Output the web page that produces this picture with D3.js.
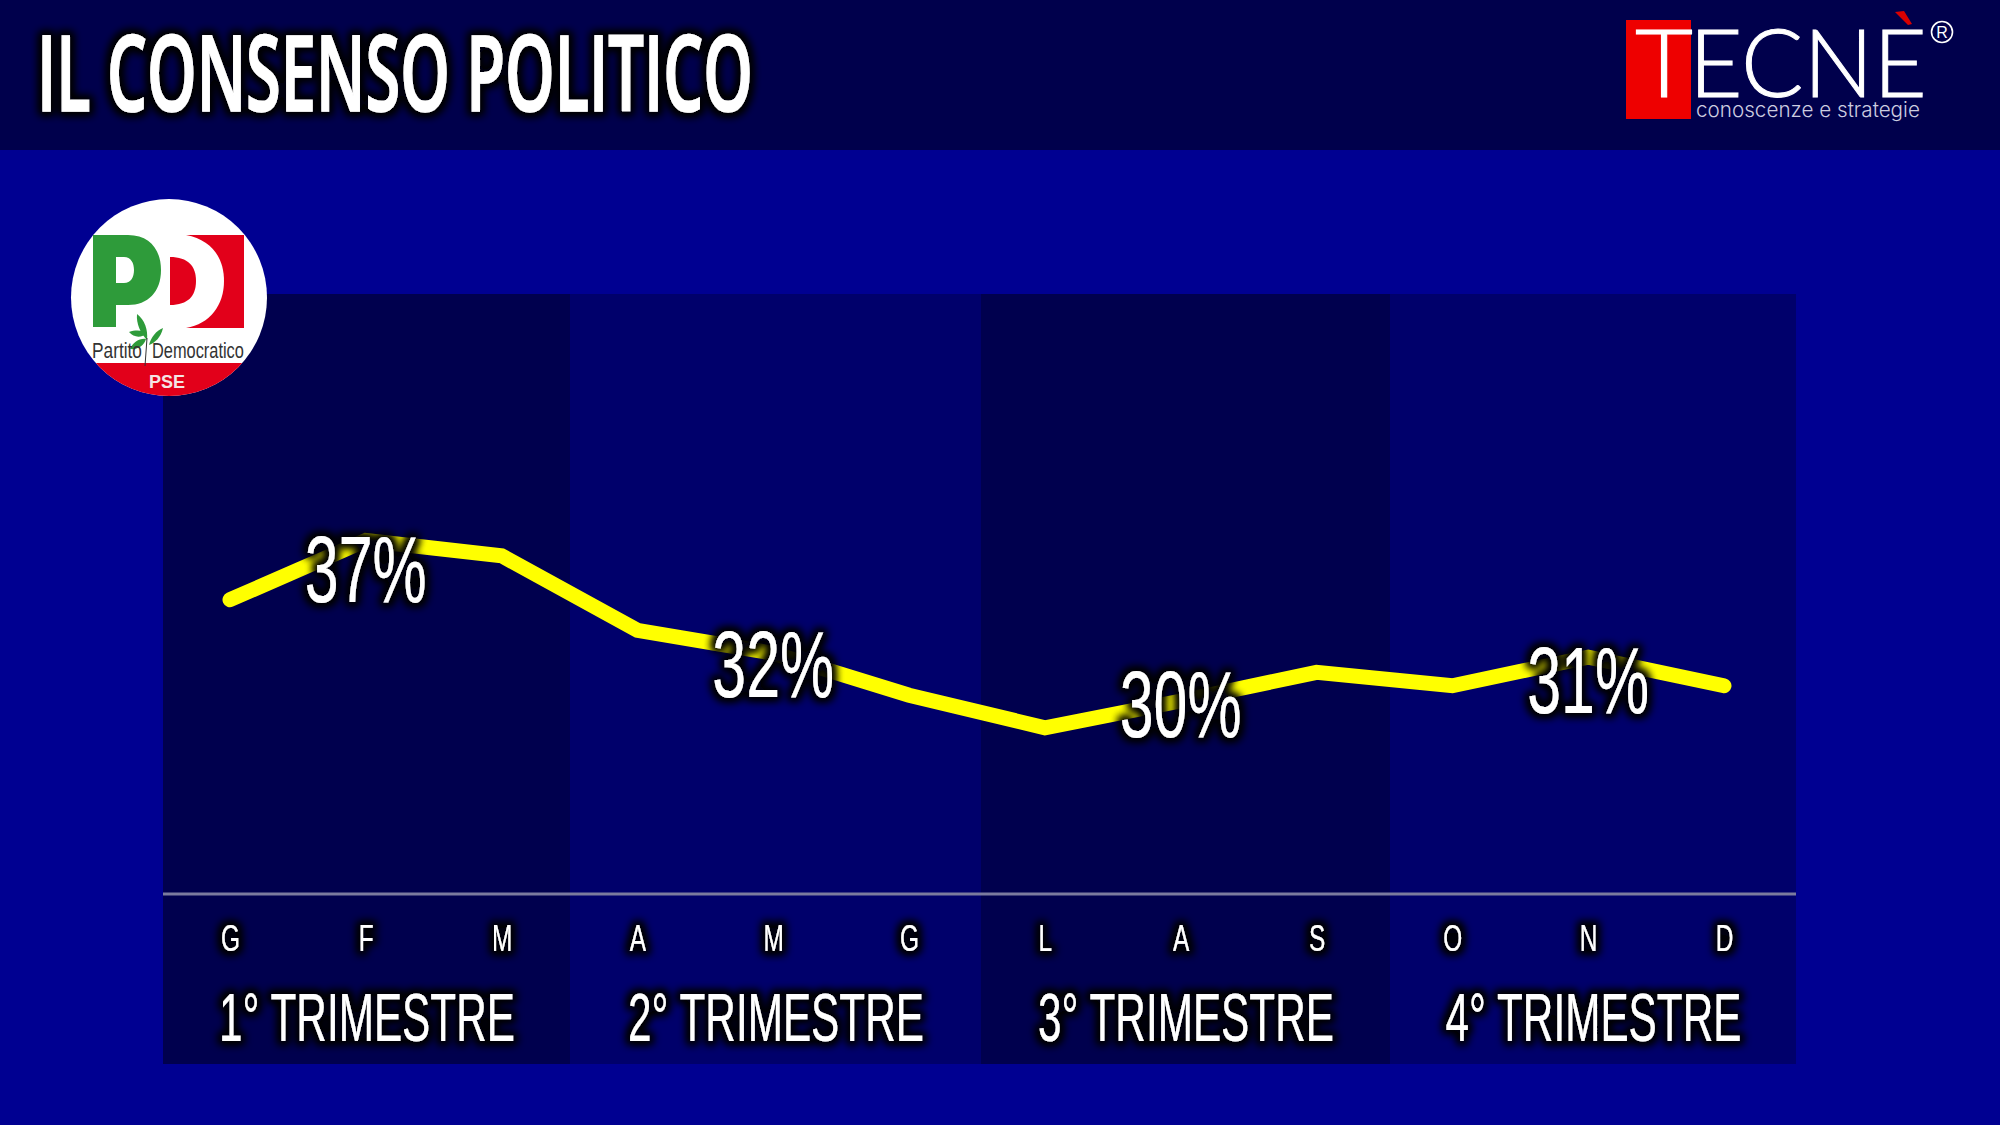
<!DOCTYPE html>
<html>
<head>
<meta charset="utf-8">
<script src="https://cdn.jsdelivr.net/npm/d3@7"></script>
<style>
	html, body { margin: 0; padding: 0; background: #000091; overflow: hidden; }
	svg { display: block; }
	text { fill: #fff; }
</style>
</head>
<body>
<svg id="chart" width="2000" height="1125"></svg>
<script>
var TITLE = "IL CONSENSO POLITICO";
var MONTHS = ["G", "F", "M", "A", "M", "G", "L", "A", "S", "O", "N", "D"];
var CONSENSUS = [35.2, 38.3, 37.5, 33.6, 32.4, 30.2, 28.5, 29.9, 31.4, 30.7, 32.2, 30.7];
var QUARTERS = ["1° TRIMESTRE", "2° TRIMESTRE", "3° TRIMESTRE", "4° TRIMESTRE"];
var QUARTER_VALUES = [37, 32, 30, 31];

var TOP = 294, BASE = 894, BOTTOM = 1064;
var EDGES = [163, 570, 981, 1390, 1796];
var NARROW = "'Liberation Sans Narrow', 'Liberation Sans', sans-serif";

var svg = d3.select("#chart");
var defs = svg.append("defs");

// dark halo round the white text
var glow = defs.append("filter").attr("id", "glow").attr("filterUnits", "userSpaceOnUse")
	.attr("x", 0).attr("y", 0).attr("width", 2000).attr("height", 1125);
glow.append("feMorphology").attr("in", "SourceAlpha").attr("operator", "dilate").attr("radius", 3).attr("result", "fat");
glow.append("feGaussianBlur").attr("in", "fat").attr("stdDeviation", 4.5).attr("result", "blur");
glow.append("feFlood").attr("flood-color", "#000008").attr("result", "dark");
glow.append("feComposite").attr("in", "dark").attr("in2", "blur").attr("operator", "in").attr("result", "halo");
var merge = glow.append("feMerge");
merge.append("feMergeNode").attr("in", "halo");
merge.append("feMergeNode").attr("in", "halo");
merge.append("feMergeNode").attr("in", "SourceGraphic");

defs.append("clipPath").attr("id", "pd-clip").append("ellipse").attr("cx", 169).attr("cy", 297.5).attr("rx", 98).attr("ry", 98.5);

var x = d3.scalePoint().domain(d3.range(MONTHS.length)).range([230, 1724]);
var y = d3.scaleLinear().domain([19.8, 51.2]).range([BASE, TOP]);
var quarterX = d3.scaleOrdinal().domain(QUARTERS).range(QUARTERS.map((d, i) => (EDGES[i] + EDGES[i + 1]) / 2));

// squeeze a text horizontally to a given width, about its own x
function squeeze(sel, width) {
	sel.each(function() {
		var sx = width / this.getComputedTextLength();
		var x0 = +this.getAttribute("x") || 0;
		d3.select(this).attr("transform", "translate(" + x0 + ",0) scale(" + sx + ",1) translate(" + (-x0) + ",0)");
	});
}

// background
svg.append("rect").attr("width", 2000).attr("height", 1125).attr("fill", "#000091");
svg.append("rect").attr("width", 2000).attr("height", 150).attr("fill", "#00004c");

// quarter panels
svg.selectAll("rect.panel").data(QUARTERS).enter().append("rect")
	.attr("class", "panel")
	.attr("x", (d, i) => EDGES[i])
	.attr("y", TOP)
	.attr("width", (d, i) => EDGES[i + 1] - EDGES[i])
	.attr("height", BOTTOM - TOP)
	.attr("fill", (d, i) => i % 2 ? "#00006b" : "#00004e");

svg.append("line")
	.attr("x1", EDGES[0]).attr("x2", EDGES[4]).attr("y1", BASE).attr("y2", BASE)
	.attr("stroke", "#7b7b9e").attr("stroke-width", 3);

// quarter axis
var quarterAxis = svg.append("g").attr("transform", "translate(0," + BASE + ")").attr("filter", "url(#glow)")
	.call(d3.axisBottom(quarterX).tickSize(0).tickSizeOuter(0));
quarterAxis.select(".domain").remove();
quarterAxis.selectAll("text")
	.attr("y", 147).attr("dy", 0)
	.attr("font-family", NARROW).attr("font-size", 69)
	.call(squeeze, 296);

// month axis
var monthAxis = svg.append("g").attr("transform", "translate(0," + BASE + ")").attr("filter", "url(#glow)")
	.call(d3.axisBottom(x).tickSize(0).tickFormat(i => MONTHS[i]));
monthAxis.select(".domain").remove();
monthAxis.selectAll("text")
	.attr("y", 57).attr("dy", 0)
	.attr("font-family", NARROW).attr("font-size", 36)
	.attr("transform", "scale(0.68,1)");

// monthly line
var line = d3.line().x((d, i) => x(i)).y(d => y(d));
svg.append("path").datum(CONSENSUS)
	.attr("d", line)
	.attr("fill", "none")
	.attr("stroke", "#ffff00")
	.attr("stroke-width", 15)
	.attr("stroke-linecap", "round")
	.attr("stroke-linejoin", "miter");

// quarter values sit on the middle month, at the height of the quarter mean
svg.append("g").attr("filter", "url(#glow)")
	.selectAll("text").data(QUARTER_VALUES).enter().append("text")
	.attr("x", (d, i) => x(i * 3 + 1))
	.attr("y", (d, i) => y(d3.mean(CONSENSUS.slice(i * 3, i * 3 + 3))) + 37)
	.attr("text-anchor", "middle")
	.attr("font-family", NARROW).attr("font-size", 94)
	.text(d => d + "%")
	.call(squeeze, 122);

// title
svg.append("g").attr("filter", "url(#glow)").append("text")
	.attr("x", 37).attr("y", 111)
	.attr("font-family", "'Open Sans', sans-serif").attr("font-weight", 600).attr("font-size", 105)
	.attr("stroke", "#fff").attr("stroke-width", 1.5)
	.text(TITLE)
	.call(squeeze, 716);

// Tecnè logo
var tecne = svg.append("g");
tecne.append("rect").attr("x", 1626).attr("y", 20).attr("width", 65).attr("height", 99).attr("fill", "#ee0000");
tecne.append("text").attr("x", 1635).attr("y", 97)
	.attr("font-family", "Lato, sans-serif").attr("font-weight", 300).attr("font-size", 94)
	.attr("stroke", "#fff").attr("stroke-width", 1)
	.text("T").call(squeeze, 58);
tecne.append("text").attr("x", 1689).attr("y", 97)
	.attr("font-family", "Lato, sans-serif").attr("font-weight", 300).attr("font-size", 94)
	.attr("stroke", "#fff").attr("stroke-width", 1)
	.text("ECNE").call(squeeze, 238);
tecne.append("path").attr("d", "M1895,12 L1904,11 L1912,24 L1908,25 Z").attr("fill", "#d80000");
tecne.append("text").attr("x", 1696).attr("y", 117)
	.attr("font-family", "Inter, 'Liberation Sans', sans-serif").attr("font-weight", 300).attr("font-size", 20.5)
	.style("fill", "#cdcde0").text("conoscenze e strategie").call(squeeze, 224);
tecne.append("circle").attr("cx", 1942).attr("cy", 32).attr("r", 10.5).attr("fill", "none").attr("stroke", "#fff").attr("stroke-width", 1.6);
tecne.append("text").attr("x", 1942).attr("y", 38).attr("text-anchor", "middle")
	.attr("font-family", "'Liberation Sans', sans-serif").attr("font-size", 16).text("R");

// PD logo
var pd = svg.append("g");
pd.append("ellipse").attr("cx", 169).attr("cy", 297.5).attr("rx", 98).attr("ry", 98.5).attr("fill", "#fff");
pd.append("rect").attr("x", 60).attr("y", 363).attr("width", 220).attr("height", 40).attr("fill", "#e2001a").attr("clip-path", "url(#pd-clip)");
pd.append("rect").attr("x", 186).attr("y", 235).attr("width", 58).attr("height", 93).attr("fill", "#e2001a");
pd.append("path").attr("d", "M186,235 C212,240 224,258 224,281 C224,305 210,324 186,328 L170,328 L170,235 Z").attr("fill", "#fff");
pd.append("path").attr("d", "M170,257 C188,257 196,266 196,281 C196,296 188,305 170,305 Z").attr("fill", "#e2001a");
pd.append("path").attr("fill-rule", "evenodd").attr("fill", "#2e9b3a")
	.attr("d", "M93,235 L128,235 C150,235 161,250 161,270 C161,292 148,305 128,305 L116,305 L116,327 L93,327 Z M116,257 L116,283 L124,283 C131,283 134,277 134,270 C134,263 131,257 124,257 Z");
pd.append("path").attr("fill", "#2e9b3a").attr("d", "M137,314 C145,320 148,330 147,340 C141,334 136,324 137,314 Z");
pd.append("path").attr("fill", "#2e9b3a").attr("d", "M163,328 C161,337 155,343 149,345 C151,337 156,331 163,328 Z");
pd.append("path").attr("fill", "#2e9b3a").attr("d", "M129,332 C137,329 144,331 147,333 C142,338 134,338 129,332 Z M130,349 C133,342 140,338 146,339 C144,346 137,350 130,349 Z");
pd.append("path").attr("stroke", "#333").attr("fill", "none").attr("stroke-width", 1).attr("d", "M147,338 L145,366");
pd.append("text").attr("x", 92).attr("y", 358)
	.attr("font-family", NARROW).attr("font-size", 22)
	.style("fill", "#333").text("Partito").call(squeeze, 50);
pd.append("text").attr("x", 152).attr("y", 358)
	.attr("font-family", NARROW).attr("font-size", 22)
	.style("fill", "#333").text("Democratico").call(squeeze, 92);
pd.append("text").attr("x", 167).attr("y", 388).attr("text-anchor", "middle")
	.attr("font-family", "'Liberation Sans', sans-serif").attr("font-weight", 700).attr("font-size", 18)
	.style("fill", "#f4e4e4").text("PSE");
</script>
</body>
</html>
